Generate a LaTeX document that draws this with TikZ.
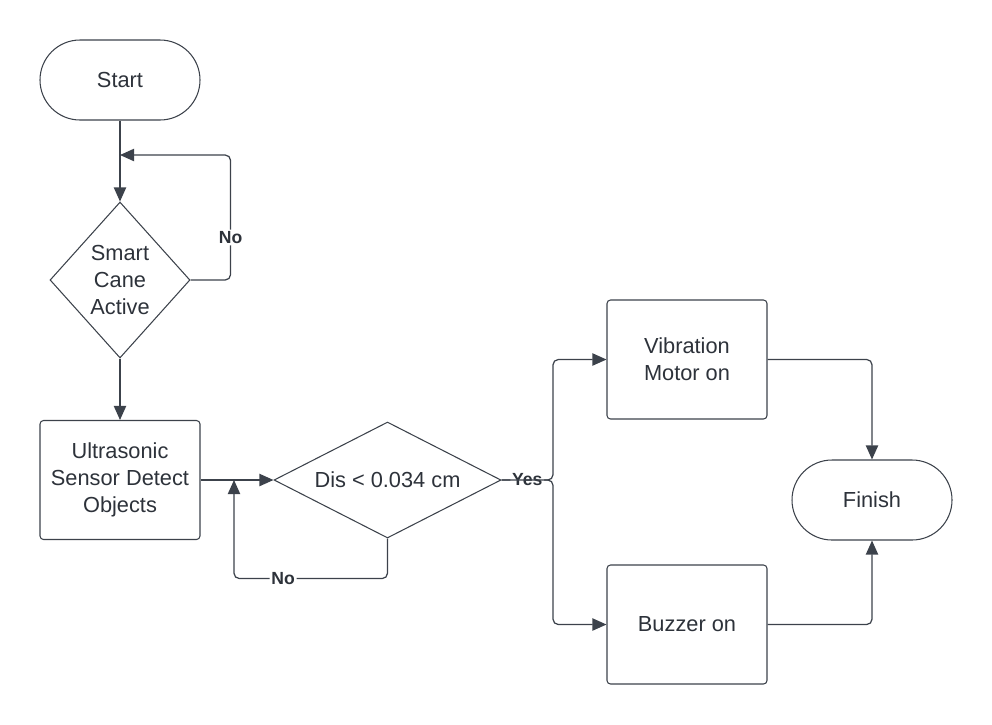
\documentclass[tikz,border=0pt]{standalone}
\usepackage{fontspec}
\setmainfont{Liberation Sans}
\usetikzlibrary{arrows.meta}
\usetikzlibrary{shapes.geometric}
\definecolor{linecol}{RGB}{60,66,75}
\definecolor{textcol}{RGB}{45,50,58}
\tikzset{base/.style = {draw=linecol, line width=0.6pt, text=textcol, align=center,
                        font=\fontsize{12.4}{15.3}\selectfont},
         terminal/.style = {base, rectangle, rounded corners=0.8cm,
                            minimum width=3.2cm, minimum height=1.6cm},
         process/.style = {base, rectangle, rounded corners=2pt,
                           minimum width=3.2cm, minimum height=2.38cm},
         decision/.style = {base, diamond, inner sep=0pt},
         arr/.style = {draw=linecol, line width=0.7pt, rounded corners=3pt,
                       -{Triangle[length=8pt,width=7pt]}},
         lbl/.style = {fill=white, inner sep=1pt, text=textcol,
                       font=\fontsize{10}{12}\selectfont\bfseries}}

\begin{document}
\begin{tikzpicture}
    \useasboundingbox (0, 0) rectangle (19.84, -14.48);
    \node [terminal] (start) at (2.4, -1.6) {Start};
    \node [decision, minimum width=2.8cm, minimum height=3.12cm] (cane) at (2.4, -5.6) {Smart\\Cane\\Active};
    \node [process] (sensor) at (2.4, -9.6) {Ultrasonic\\Sensor Detect\\Objects};
    \node [decision, shape aspect=1.96, minimum width=4.54cm, minimum height=2.32cm] (dis) at (7.75, -9.6) {Dis < 0.034 cm};
    \node [process] (vib) at (13.74, -7.19) {Vibration\\Motor on};
    \node [process] (buzz) at (13.74, -12.49) {Buzzer on};
    \node [terminal] (finish) at (17.44, -10.0) {Finish};
    \coordinate (caneback) at (2.4, -3.1);
    \coordinate (sensorback) at (4.68, -9.6);
    \coordinate (split) at (11.06, -9.6);

    \draw [arr] (start) -- (cane);
    \draw [arr] (cane.east) -- ++(0.8, 0) |- node [lbl, pos=0.17] {No} (caneback);
    \draw [arr] (cane) -- (sensor);
    \draw [arr] (sensor) -- (dis);
    \draw [arr] (dis.south) -- ++(0, -0.8) -| node [lbl, pos=0.34] {No} (sensorback);
    \draw [arr] (dis.east) -- node [lbl] {Yes} (split) |- (vib);
    \draw [arr] (dis.east) -- (split) |- (buzz);
    \draw [arr] (vib) -| (finish);
    \draw [arr] (buzz) -| (finish);
  \end{tikzpicture}
\end{document}
